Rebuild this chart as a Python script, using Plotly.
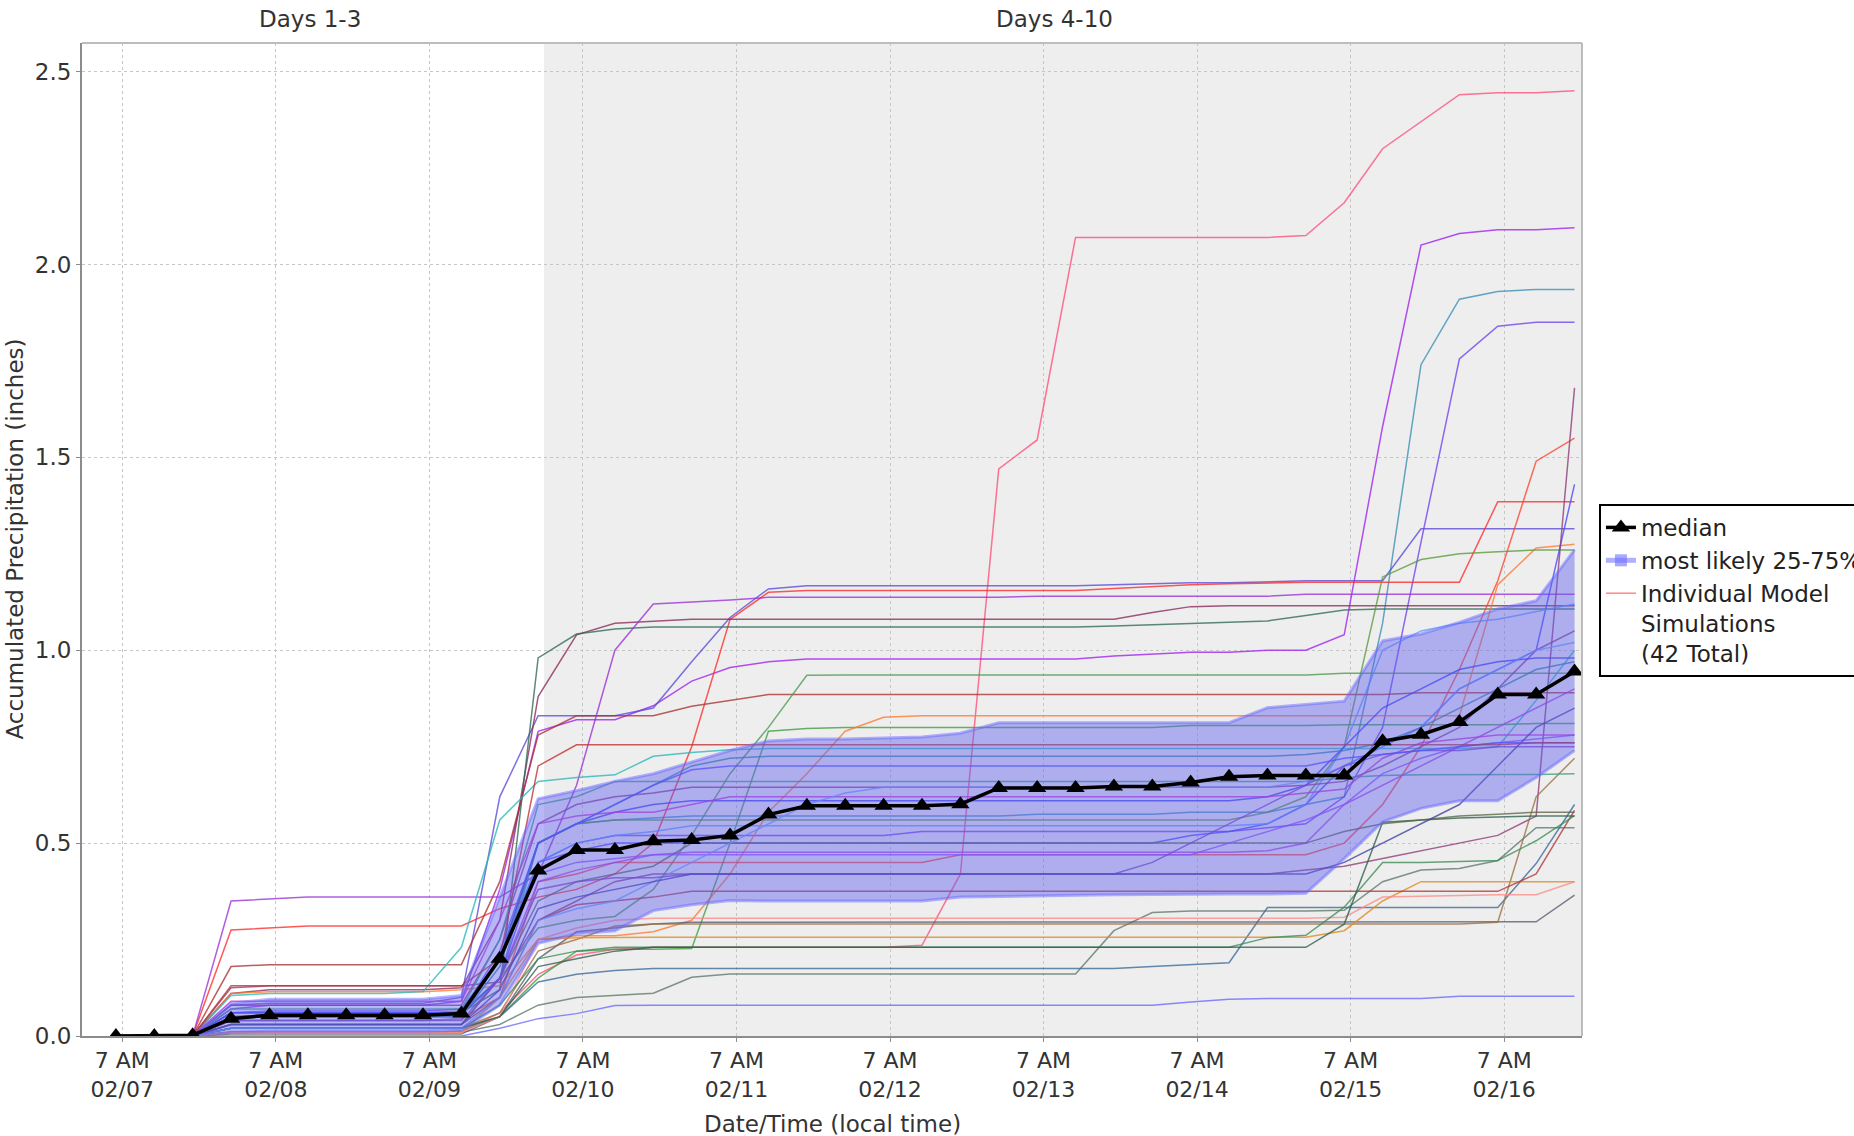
import plotly.graph_objects as go

# ---------------- data ----------------
times = [
    "2024-02-07 06:00", "2024-02-07 12:00", "2024-02-07 18:00",
    "2024-02-08 00:00", "2024-02-08 06:00", "2024-02-08 12:00", "2024-02-08 18:00",
    "2024-02-09 00:00", "2024-02-09 06:00", "2024-02-09 12:00", "2024-02-09 18:00",
    "2024-02-10 00:00", "2024-02-10 06:00", "2024-02-10 12:00", "2024-02-10 18:00",
    "2024-02-11 00:00", "2024-02-11 06:00", "2024-02-11 12:00", "2024-02-11 18:00",
    "2024-02-12 00:00", "2024-02-12 06:00", "2024-02-12 12:00", "2024-02-12 18:00",
    "2024-02-13 00:00", "2024-02-13 06:00", "2024-02-13 12:00", "2024-02-13 18:00",
    "2024-02-14 00:00", "2024-02-14 06:00", "2024-02-14 12:00", "2024-02-14 18:00",
    "2024-02-15 00:00", "2024-02-15 06:00", "2024-02-15 12:00", "2024-02-15 18:00",
    "2024-02-16 00:00", "2024-02-16 06:00", "2024-02-16 12:00", "2024-02-16 18:00",
]

tick_times = ["2024-02-07 07:00", "2024-02-08 07:00", "2024-02-09 07:00", "2024-02-10 07:00",
              "2024-02-11 07:00", "2024-02-12 07:00", "2024-02-13 07:00", "2024-02-14 07:00",
              "2024-02-15 07:00", "2024-02-16 07:00"]
tick_labels = ["7 AM<br>02/07", "7 AM<br>02/08", "7 AM<br>02/09", "7 AM<br>02/10", "7 AM<br>02/11",
               "7 AM<br>02/12", "7 AM<br>02/13", "7 AM<br>02/14", "7 AM<br>02/15", "7 AM<br>02/16"]

median = [0, 0, 0.002, 0.045, 0.054, 0.054, 0.054, 0.054, 0.054, 0.058,
          0.2, 0.429, 0.482, 0.482, 0.505, 0.508, 0.52, 0.574, 0.597, 0.597, 0.597,
          0.597, 0.601, 0.643, 0.643, 0.643, 0.647, 0.647, 0.657,
          0.672, 0.675, 0.675, 0.675, 0.764, 0.781, 0.814, 0.885, 0.885, 0.945]
p25 = [0, 0, 0, 0.01, 0.012, 0.012, 0.012, 0.012, 0.012, 0.015,
       0.08, 0.24, 0.265, 0.273, 0.325, 0.34, 0.351, 0.35, 0.35, 0.35, 0.35,
       0.35, 0.36, 0.362, 0.364, 0.365, 0.366, 0.367, 0.368,
       0.368, 0.368, 0.37, 0.46, 0.555, 0.59, 0.61, 0.61, 0.67, 0.74]
p75 = [0, 0, 0, 0.085, 0.095, 0.095, 0.095, 0.095, 0.095, 0.105,
       0.36, 0.615, 0.636, 0.66, 0.68, 0.71, 0.74, 0.765, 0.77, 0.77, 0.772,
       0.775, 0.785, 0.812, 0.812, 0.812, 0.812, 0.812, 0.812,
       0.812, 0.851, 0.86, 0.868, 1.024, 1.042, 1.072, 1.107, 1.128, 1.26]

# 42 individual model simulations (inches)
pink = [0,0,0, 0.01,0.01,0.01,0.01,0.01,0.01,0.012, 0.06,0.16,0.21, 0.225,0.23,0.23,0.23,0.23,0.23,0.23,0.23, 0.235,0.42,1.47,1.545,2.07,2.07,2.07,2.07, 2.07,2.07,2.075,2.16,2.30,2.37,2.44,2.445,2.445,2.45]
purple_a = [0,0,0, 0.07,0.08,0.08,0.08,0.08,0.08,0.09, 0.38,0.79,0.82, 0.82,0.856,0.92,0.955,0.97,0.977,0.977,0.977, 0.977,0.977,0.977,0.977,0.977,0.985,0.99,0.995, 0.995,1.0,1.0,1.04,1.58,2.05,2.08,2.09,2.09,2.095]
teal_a = [0,0,0, 0.05,0.055,0.055,0.055,0.055,0.055,0.06, 0.15,0.5,0.55, 0.56,0.565,0.57,0.57,0.57,0.57,0.57,0.57, 0.57,0.57,0.57,0.575,0.575,0.575,0.575,0.58, 0.58,0.58,0.6,0.62,1.07,1.74,1.91,1.93,1.935,1.935]
violet_a = [0,0,0, 0.06,0.065,0.065,0.065,0.065,0.065,0.07, 0.2,0.45,0.5, 0.52,0.52,0.52,0.52,0.52,0.52,0.52,0.52, 0.53,0.53,0.53,0.53,0.53,0.53,0.53,0.53, 0.53,0.54,0.55,0.62,0.8,1.28,1.755,1.84,1.85,1.85]
navy_a = [0,0,0, 0.08,0.085,0.085,0.085,0.085,0.085,0.1, 0.62,0.83,0.83, 0.83,0.85,0.97,1.085,1.159,1.167,1.167,1.167, 1.167,1.167,1.167,1.167,1.167,1.17,1.172,1.175, 1.175,1.178,1.18,1.18,1.18,1.315,1.315,1.315,1.315,1.315]
red_a = [0,0,0, 0.275,0.28,0.285,0.285,0.285,0.285,0.285, 0.33,0.36,0.38, 0.42,0.5,0.75,1.08,1.15,1.155,1.155,1.155, 1.155,1.155,1.155,1.155,1.155,1.16,1.165,1.17, 1.172,1.174,1.176,1.176,1.176,1.176,1.176,1.385,1.385,1.385]
maroon_a = [0,0,0, 0.11,0.12,0.12,0.12,0.12,0.12,0.125, 0.3,0.88,1.04, 1.07,1.075,1.08,1.08,1.08,1.08,1.08,1.08, 1.08,1.08,1.08,1.08,1.08,1.08,1.098,1.113, 1.115,1.115,1.115,1.115,1.115,1.115,1.115,1.115,1.115,1.115]
dkgreen_a = [0,0,0, 0.05,0.055,0.055,0.055,0.055,0.055,0.06, 0.12,0.98,1.042, 1.055,1.06,1.06,1.06,1.06,1.06,1.06,1.06, 1.06,1.06,1.06,1.06,1.06,1.063,1.066,1.069, 1.072,1.076,1.09,1.104,1.107,1.107,1.107,1.107,1.107,1.107]
dkred_a = [0,0,0, 0.18,0.185,0.185,0.185,0.185,0.185,0.185, 0.4,0.78,0.83, 0.83,0.83,0.855,0.87,0.885,0.885,0.885,0.885, 0.885,0.885,0.885,0.885,0.885,0.885,0.885,0.885, 0.885,0.885,0.885,0.885,0.885,0.89,0.89,0.89,0.89,0.89]
green_a = [0,0,0, 0.02,0.02,0.02,0.02,0.02,0.02,0.02, 0.05,0.15,0.22, 0.225,0.225,0.227,0.5,0.79,0.797,0.8,0.8, 0.8,0.8,0.8,0.8,0.8,0.8,0.8,0.805, 0.805,0.805,0.805,0.807,0.807,0.807,0.807,0.807,0.81,0.81]
green_b = [0,0,0, 0.05,0.05,0.05,0.05,0.05,0.05,0.055, 0.15,0.28,0.3, 0.31,0.38,0.52,0.68,0.8,0.935,0.936,0.936, 0.936,0.936,0.936,0.936,0.936,0.936,0.936,0.936, 0.936,0.936,0.936,0.94,0.94,0.94,0.94,0.94,0.94,0.94]
purple_b = [0,0,0, 0.35,0.355,0.36,0.36,0.36,0.36,0.36, 0.36,0.42,0.65, 1.0,1.12,1.125,1.13,1.137,1.137,1.137,1.137, 1.137,1.137,1.137,1.14,1.14,1.14,1.14,1.14, 1.14,1.14,1.145,1.145,1.145,1.145,1.145,1.145,1.145,1.145]
orange_a = [0,0,0, 0.11,0.115,0.115,0.115,0.115,0.115,0.12, 0.13,0.25,0.26, 0.26,0.27,0.3,0.42,0.58,0.68,0.79,0.826, 0.83,0.83,0.83,0.83,0.83,0.83,0.83,0.83, 0.83,0.83,0.83,0.83,0.83,0.83,0.83,1.17,1.265,1.275]
orangered_a = [0,0,0, 0.04,0.04,0.04,0.04,0.04,0.04,0.045, 0.1,0.4,0.42, 0.45,0.45,0.45,0.45,0.45,0.45,0.45,0.45, 0.45,0.47,0.47,0.47,0.47,0.47,0.47,0.47, 0.47,0.47,0.47,0.5,0.6,0.75,0.95,1.18,1.49,1.55]
green_c = [0,0,0, 0.06,0.06,0.06,0.06,0.06,0.06,0.065, 0.2,0.5,0.55, 0.56,0.56,0.56,0.56,0.56,0.56,0.56,0.56, 0.56,0.56,0.56,0.56,0.56,0.56,0.56,0.56, 0.56,0.58,0.62,0.75,1.19,1.235,1.25,1.255,1.26,1.26]
blue_a = [0,0,0, 0.05,0.05,0.05,0.05,0.05,0.05,0.055, 0.15,0.45,0.48, 0.5,0.5,0.5,0.5,0.5,0.5,0.5,0.5, 0.5,0.5,0.5,0.5,0.5,0.5,0.5,0.52, 0.53,0.55,0.6,0.7,0.75,0.8,0.9,0.95,1.0,1.43]
maroon_b = [0,0,0, 0.125,0.13,0.13,0.13,0.13,0.13,0.13, 0.14,0.3,0.35, 0.4,0.42,0.42,0.42,0.42,0.42,0.42,0.42, 0.42,0.42,0.42,0.42,0.42,0.42,0.42,0.42, 0.42,0.42,0.43,0.44,0.46,0.48,0.5,0.52,0.57,1.68]
cyan_a = [0,0,0, 0.105,0.11,0.11,0.11,0.11,0.115,0.23, 0.56,0.66,0.67, 0.677,0.725,0.735,0.742,0.745,0.745,0.745,0.745, 0.745,0.745,0.745,0.745,0.745,0.745,0.745,0.745, 0.745,0.745,0.745,0.745,0.745,0.745,0.745,0.75,0.87,1.0]
blue_low = [0,0,0, 0,0,0,0,0,0,0, 0.02,0.045,0.058, 0.079,0.08,0.08,0.08,0.08,0.08,0.08,0.08, 0.08,0.08,0.08,0.08,0.08,0.08,0.08,0.088, 0.095,0.097,0.097,0.097,0.097,0.097,0.103,0.103,0.103,0.103]
slate_a = [0,0,0, 0.01,0.01,0.01,0.01,0.01,0.01,0.01, 0.03,0.08,0.1, 0.105,0.111,0.152,0.161,0.161,0.161,0.161,0.161, 0.161,0.161,0.161,0.161,0.161,0.273,0.32,0.324, 0.324,0.324,0.324,0.326,0.4,0.43,0.434,0.455,0.54,0.54]
steel_a = [0,0,0, 0.01,0.01,0.01,0.01,0.01,0.01,0.012, 0.05,0.14,0.16, 0.17,0.175,0.175,0.175,0.175,0.175,0.175,0.175, 0.175,0.175,0.175,0.175,0.175,0.175,0.18,0.185, 0.19,0.333,0.333,0.333,0.333,0.333,0.333,0.333,0.447,0.6]
grey_a = [0,0,0, 0.005,0.005,0.005,0.005,0.005,0.005,0.005, 0.05,0.2,0.27, 0.28,0.29,0.295,0.295,0.295,0.295,0.295,0.295, 0.295,0.295,0.295,0.295,0.295,0.295,0.295,0.295, 0.295,0.295,0.295,0.295,0.295,0.295,0.295,0.295,0.296,0.365]
brown_a = [0,0,0, 0.02,0.02,0.02,0.02,0.02,0.02,0.02, 0.06,0.22,0.25, 0.285,0.29,0.29,0.29,0.29,0.29,0.29,0.29, 0.29,0.29,0.29,0.29,0.29,0.29,0.29,0.29, 0.29,0.29,0.29,0.29,0.29,0.29,0.29,0.295,0.62,0.72]
orange_b = [0,0,0, 0.01,0.01,0.01,0.01,0.01,0.01,0.01, 0.1,0.25,0.255, 0.256,0.256,0.256,0.256,0.256,0.256,0.256,0.256, 0.256,0.256,0.256,0.256,0.256,0.256,0.256,0.256, 0.256,0.256,0.256,0.273,0.35,0.4,0.4,0.4,0.4,0.4]
salmon_a = [0,0,0, 0.01,0.01,0.01,0.01,0.01,0.01,0.01, 0.05,0.25,0.28, 0.3,0.305,0.305,0.305,0.305,0.305,0.305,0.305, 0.305,0.305,0.305,0.305,0.305,0.305,0.305,0.305, 0.305,0.305,0.305,0.308,0.36,0.362,0.364,0.366,0.366,0.4]
dkred_b = [0,0,0, 0.03,0.03,0.03,0.03,0.03,0.03,0.03, 0.1,0.3,0.34, 0.35,0.36,0.375,0.375,0.375,0.375,0.375,0.375, 0.375,0.375,0.375,0.375,0.375,0.375,0.375,0.375, 0.375,0.375,0.375,0.375,0.375,0.375,0.375,0.375,0.42,0.585]
green_d = [0,0,0, 0.02,0.02,0.02,0.02,0.02,0.02,0.02, 0.08,0.2,0.22, 0.23,0.23,0.23,0.23,0.23,0.23,0.23,0.23, 0.23,0.23,0.23,0.23,0.23,0.23,0.23,0.23, 0.23,0.255,0.261,0.334,0.45,0.45,0.452,0.455,0.506,0.571]
slate_b = [0,0,0, 0.02,0.02,0.02,0.02,0.02,0.02,0.02, 0.05,0.18,0.2, 0.22,0.23,0.23,0.23,0.23,0.23,0.23,0.23, 0.23,0.23,0.23,0.23,0.23,0.23,0.23,0.23, 0.23,0.23,0.23,0.29,0.554,0.56,0.565,0.568,0.57,0.57]
ltblue_a = [0,0,0, 0.04,0.04,0.04,0.04,0.04,0.04,0.045, 0.2,0.45,0.5, 0.52,0.53,0.545,0.545,0.545,0.545,0.545,0.545, 0.545,0.545,0.545,0.545,0.545,0.545,0.545,0.545, 0.545,0.55,0.6,0.75,1.0,1.05,1.07,1.08,1.1,1.12]
purple_c = [0,0,0, 0.03,0.03,0.03,0.03,0.03,0.03,0.03, 0.15,0.4,0.43, 0.45,0.47,0.476,0.476,0.476,0.476,0.476,0.476, 0.476,0.476,0.476,0.476,0.476,0.476,0.476,0.476, 0.476,0.48,0.5,0.6,0.65,0.7,0.75,0.8,0.85,0.9]
magenta_a = [0,0,0, 0.08,0.08,0.08,0.08,0.08,0.08,0.08, 0.25,0.55,0.6, 0.62,0.63,0.645,0.645,0.645,0.645,0.645,0.645, 0.645,0.645,0.645,0.645,0.645,0.645,0.645,0.645, 0.645,0.645,0.65,0.66,0.7,0.75,0.8,0.9,1.0,1.05]
blue_b = [0,0,0, 0.06,0.06,0.06,0.06,0.06,0.06,0.06, 0.2,0.5,0.55, 0.58,0.6,0.61,0.61,0.61,0.61,0.61,0.61, 0.61,0.61,0.61,0.61,0.61,0.61,0.61,0.61, 0.61,0.62,0.65,0.75,0.85,0.9,0.95,0.97,0.98,0.98]
teal_b = [0,0,0, 0.07,0.07,0.07,0.07,0.07,0.07,0.07, 0.25,0.6,0.62, 0.66,0.66,0.66,0.66,0.66,0.66,0.66,0.66, 0.66,0.66,0.66,0.66,0.66,0.66,0.66,0.66, 0.66,0.66,0.66,0.67,0.675,0.677,0.677,0.678,0.678,0.68]
olive_a = [0,0,0, 0.03,0.03,0.03,0.03,0.03,0.03,0.03, 0.15,0.35,0.4, 0.42,0.44,0.5,0.5,0.5,0.5,0.5,0.5, 0.5,0.5,0.5,0.5,0.5,0.5,0.5,0.5, 0.5,0.5,0.5,0.53,0.55,0.56,0.57,0.575,0.58,0.58]
violet_b = [0,0,0, 0.05,0.05,0.05,0.05,0.05,0.05,0.05, 0.2,0.42,0.45, 0.46,0.47,0.47,0.47,0.47,0.47,0.47,0.47, 0.47,0.47,0.47,0.47,0.47,0.47,0.47,0.47, 0.5,0.53,0.56,0.6,0.68,0.72,0.75,0.76,0.77,0.78]
magenta_b = [0,0,0, 0.09,0.09,0.09,0.09,0.09,0.09,0.09, 0.3,0.55,0.57, 0.58,0.58,0.6,0.62,0.62,0.62,0.62,0.62, 0.62,0.62,0.62,0.62,0.62,0.62,0.62,0.62, 0.62,0.62,0.63,0.64,0.72,0.76,0.77,0.78,0.78,0.78]
ltblue_b = [0,0,0, 0.02,0.02,0.02,0.02,0.02,0.02,0.02, 0.1,0.3,0.33, 0.35,0.4,0.45,0.5,0.55,0.6,0.63,0.645, 0.645,0.645,0.645,0.645,0.645,0.645,0.645,0.645, 0.645,0.645,0.66,0.7,0.75,0.8,0.9,0.95,1.0,1.02]
purple_d = [0,0,0, 0.04,0.04,0.04,0.04,0.04,0.04,0.04, 0.15,0.38,0.4, 0.41,0.41,0.42,0.42,0.42,0.42,0.42,0.42, 0.42,0.42,0.42,0.42,0.42,0.42,0.45,0.5, 0.55,0.6,0.65,0.7,0.73,0.74,0.74,0.75,0.75,0.75]
dkcyan_a = [0,0,0, 0.05,0.05,0.05,0.05,0.05,0.05,0.05, 0.18,0.5,0.55, 0.6,0.65,0.7,0.72,0.725,0.725,0.725,0.725, 0.725,0.725,0.725,0.725,0.725,0.725,0.725,0.725, 0.725,0.725,0.73,0.74,0.76,0.8,0.85,0.9,0.95,0.97]
navy_b = [0,0,0, 0.03,0.03,0.03,0.03,0.03,0.03,0.03, 0.12,0.33,0.36, 0.38,0.4,0.42,0.42,0.42,0.42,0.42,0.42, 0.42,0.42,0.42,0.42,0.42,0.42,0.42,0.42, 0.42,0.42,0.42,0.45,0.5,0.55,0.6,0.7,0.8,0.85]
blue_c = [0,0,0, 0.06,0.06,0.06,0.06,0.06,0.06,0.06, 0.22,0.5,0.55, 0.6,0.65,0.69,0.7,0.7,0.7,0.7,0.7, 0.7,0.7,0.7,0.7,0.7,0.7,0.7,0.7, 0.7,0.7,0.7,0.72,0.73,0.74,0.75,0.76,0.76,0.76]
dkred_c = [0,0,0, 0.13,0.13,0.13,0.13,0.13,0.13,0.13, 0.2,0.7,0.755, 0.755,0.755,0.755,0.755,0.755,0.755,0.755,0.755, 0.755,0.755,0.755,0.755,0.755,0.755,0.755,0.755, 0.755,0.755,0.755,0.755,0.755,0.755,0.755,0.755,0.76,0.76]

members = [pink, purple_a, teal_a, violet_a, navy_a, red_a, maroon_a, dkgreen_a, dkred_a,
           green_a, green_b, purple_b, orange_a, orangered_a, green_c, blue_a, maroon_b,
           cyan_a, blue_low, slate_a, steel_a, grey_a, brown_a, orange_b, salmon_a, dkred_b,
           green_d, slate_b, ltblue_a, purple_c, magenta_a, blue_b, teal_b, olive_a, violet_b,
           magenta_b, ltblue_b, purple_d, dkcyan_a, navy_b, blue_c, dkred_c]
member_colors = ["#ff4f7b", "#a020f0", "#3b8fb5", "#7040f0", "#5a4ad8", "#ff2a2a", "#8b2a5a",
                 "#2f6b55", "#a83232", "#3e9e3e", "#4c9a50", "#9b30d8", "#ff7a30", "#ff4530",
                 "#5a9a3a", "#4848ff", "#8e3c78", "#2ab8b8", "#6a6aff", "#5e7868", "#3a6a98",
                 "#5c5c70", "#9a7040", "#e08a20", "#ff8a8a", "#b03838", "#3c8c58", "#2f5f4f",
                 "#5aa0ff", "#b040e0", "#8b3a8b", "#3c3cf0", "#3aa080", "#5a6a40", "#9a50ff",
                 "#d030d0", "#6aa8ff", "#8040c0", "#2a8a9a", "#4040a0", "#5050ff", "#c03030"]

for k, m in enumerate(members):
    assert len(m) == len(times), ("member", k, len(m))
assert len(median) == len(times) and len(p25) == len(times) and len(p75) == len(times)

FONT = "DejaVu Sans"
TXT = "#333333"

fig = go.Figure()

for vals, col in zip(members, member_colors):
    fig.add_trace(go.Scatter(x=times, y=vals, mode="lines",
                             line=dict(color=col, width=1.5), opacity=0.78,
                             showlegend=False, hoverinfo="skip"))

fig.add_trace(go.Scatter(x=times, y=p25, mode="lines",
                         line=dict(color="rgba(105,105,255,0.5)", width=3),
                         showlegend=False, hoverinfo="skip"))
fig.add_trace(go.Scatter(x=times, y=p75, mode="lines", fill="tonexty",
                         fillcolor="rgba(95,95,240,0.45)",
                         line=dict(color="rgba(105,105,255,0.5)", width=3),
                         showlegend=False, hoverinfo="skip"))

fig.add_trace(go.Scatter(x=times, y=median, mode="lines+markers", name="median",
                         line=dict(color="black", width=3.5),
                         marker=dict(symbol="triangle-up", size=16, color="black"),
                         legendrank=1))

fig.add_trace(go.Scatter(x=[None], y=[None], mode="lines+markers", name="most likely 25-75%",
                         line=dict(color="rgba(110,110,255,0.55)", width=5),
                         marker=dict(symbol="square", size=12, color="rgba(110,110,255,0.6)"),
                         legendrank=2))
fig.add_trace(go.Scatter(x=[None], y=[None], mode="lines",
                         name="Individual Model<br>Simulations<br>(42 Total)",
                         line=dict(color="rgba(255,95,95,0.75)", width=1.5),
                         legendrank=3))

# shaded Days 4-10 region
fig.add_shape(type="rect", xref="x", yref="paper", x0="2024-02-10 00:55", x1="2024-02-16 19:10",
              y0=0, y1=1, fillcolor="#eeeeee", line=dict(width=0), layer="below")
# top / right frame
fig.add_shape(type="line", xref="paper", yref="paper", x0=0, x1=1, y0=1, y1=1,
              line=dict(color="#bdbdbd", width=2), layer="above")
fig.add_shape(type="line", xref="paper", yref="paper", x0=1, x1=1, y0=0, y1=1,
              line=dict(color="#bdbdbd", width=2), layer="above")

fig.add_annotation(x="2024-02-08 12:20", xref="x", y=1, yref="paper", yshift=24,
                   text="Days 1-3", showarrow=False, yanchor="middle",
                   font=dict(family=FONT, size=23, color=TXT))
fig.add_annotation(x="2024-02-13 08:40", xref="x", y=1, yref="paper", yshift=24,
                   text="Days 4-10", showarrow=False, yanchor="middle",
                   font=dict(family=FONT, size=23, color=TXT))
fig.add_annotation(x=-0.0453, xref="paper", y=0.5, yref="paper",
                   text="Accumulated Precipitation (inches)", textangle=-90,
                   showarrow=False, xanchor="center", yanchor="middle",
                   font=dict(family=FONT, size=23, color=TXT))
fig.add_annotation(x=0.5, xref="paper", y=-0.089, yref="paper",
                   text="Date/Time (local time)", showarrow=False,
                   xanchor="center", yanchor="middle",
                   font=dict(family=FONT, size=23, color=TXT))

grid = dict(showgrid=True, gridcolor="#c6c6c6", gridwidth=1, griddash="3px,3px",
            ticks="outside", ticklen=4, tickcolor="#8c8c8c", showline=True,
            linecolor="#8c8c8c", linewidth=2, zeroline=False)

fig.update_xaxes(type="date", range=["2024-02-07 00:42", "2024-02-16 19:10"],
                 tickmode="array", tickvals=tick_times, ticktext=tick_labels,
                 tickfont=dict(family=FONT, size=22, color=TXT), **grid)
fig.update_yaxes(range=[0, 2.574], tickmode="array",
                 tickvals=[0, 0.5, 1.0, 1.5, 2.0, 2.5],
                 ticktext=["0.0", "0.5", "1.0", "1.5", "2.0", "2.5"],
                 tickfont=dict(family=FONT, size=23, color=TXT), **grid)

fig.update_layout(
    width=1854, height=1136,
    margin=dict(l=82, r=272, t=43, b=100, autoexpand=False),
    plot_bgcolor="white", paper_bgcolor="white",
    font=dict(family=FONT, size=23, color=TXT),
    legend=dict(x=1.0113, y=0.5358, xanchor="left", yanchor="top",
                bordercolor="black", borderwidth=2, bgcolor="white",
                font=dict(family=FONT, size=23, color="#222222"),
                valign="top", itemwidth=30, traceorder="normal"),
    hovermode=False,
)

fig.write_html("out.html", config={"displayModeBar": False},
               post_script="document.body.style.margin='0';document.body.style.overflow='hidden';")
